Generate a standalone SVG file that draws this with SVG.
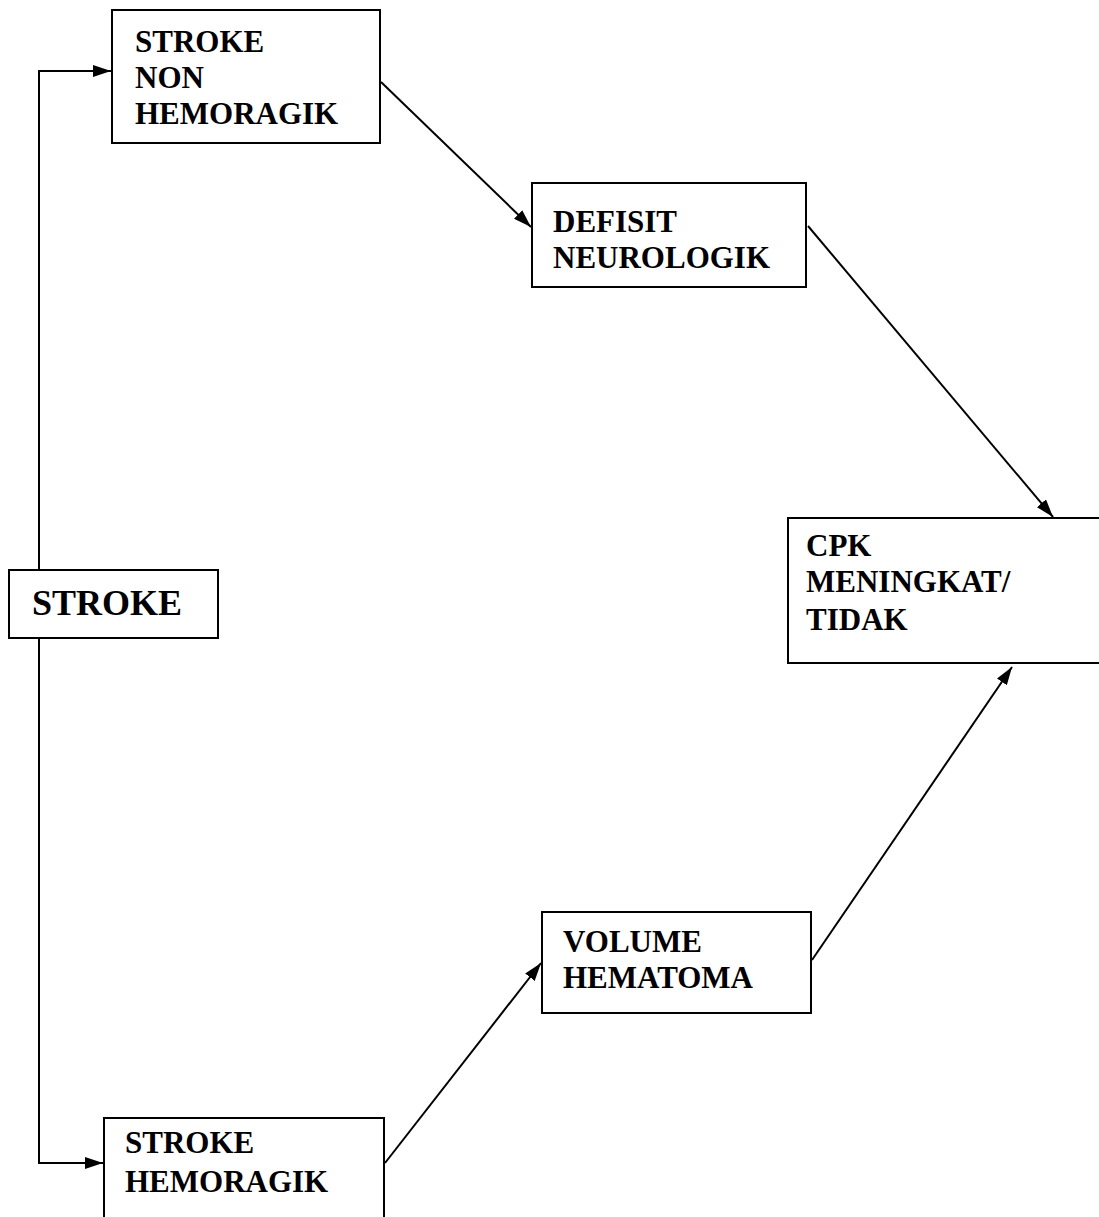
<svg xmlns="http://www.w3.org/2000/svg" width="1099" height="1217" viewBox="0 0 1099 1217">
<style>
.box{fill:#fff;stroke:#000;stroke-width:2}
.t{font-weight:bold;font-size:31px;fill:#000}
.big{font-size:36px}
.c{fill:none;stroke:#000;stroke-width:2}
</style>
<defs>
<marker id="ah" viewBox="0 0 18 12" refX="18" refY="6" markerWidth="18" markerHeight="12" markerUnits="userSpaceOnUse" orient="auto">
<path d="M0,0 L18,6 L0,12 Z" fill="#000"/>
</marker>
</defs>
<rect width="1099" height="1217" fill="#fff"/>
<g id="connectors">
<polyline class="c" points="39,570 39,71 111,71" marker-end="url(#ah)"/>
<polyline class="c" points="39,638 39,1163 103,1163" marker-end="url(#ah)"/>
<line class="c" x1="381" y1="82" x2="531" y2="227" marker-end="url(#ah)"/>
<line class="c" x1="808" y1="226" x2="1053" y2="517" marker-end="url(#ah)"/>
<line class="c" x1="385" y1="1163" x2="541" y2="963" marker-end="url(#ah)"/>
<line class="c" x1="812" y1="960" x2="1012" y2="667" marker-end="url(#ah)"/>
</g>
<g font-family="'Liberation Serif', 'Times New Roman', 'DejaVu Serif', serif">
<g id="stroke">
<rect class="box" x="9" y="570" width="209" height="68"/>
<text class="t big" x="32" y="615">STROKE</text>
</g>
<g id="stroke-non-hemoragik">
<rect class="box" x="112" y="10" width="268" height="133"/>
<text class="t" x="135" y="52">STROKE</text>
<text class="t" x="135" y="88">NON</text>
<text class="t" x="135" y="124">HEMORAGIK</text>
</g>
<g id="defisit-neurologik">
<rect class="box" x="532" y="183" width="274" height="104"/>
<text class="t" x="553" y="232">DEFISIT</text>
<text class="t" x="553" y="268">NEUROLOGIK</text>
</g>
<g id="cpk">
<rect class="box" x="788" y="518" width="320" height="145"/>
<text class="t" x="806" y="556">CPK</text>
<text class="t" x="806" y="592">MENINGKAT/</text>
<text class="t" x="806" y="630">TIDAK</text>
</g>
<g id="volume-hematoma">
<rect class="box" x="542" y="912" width="269" height="101"/>
<text class="t" x="563" y="952">VOLUME</text>
<text class="t" x="563" y="988">HEMATOMA</text>
</g>
<g id="stroke-hemoragik">
<rect class="box" x="104" y="1118" width="280" height="110"/>
<text class="t" x="125" y="1153">STROKE</text>
<text class="t" x="125" y="1192">HEMORAGIK</text>
</g>
</g>
</svg>
